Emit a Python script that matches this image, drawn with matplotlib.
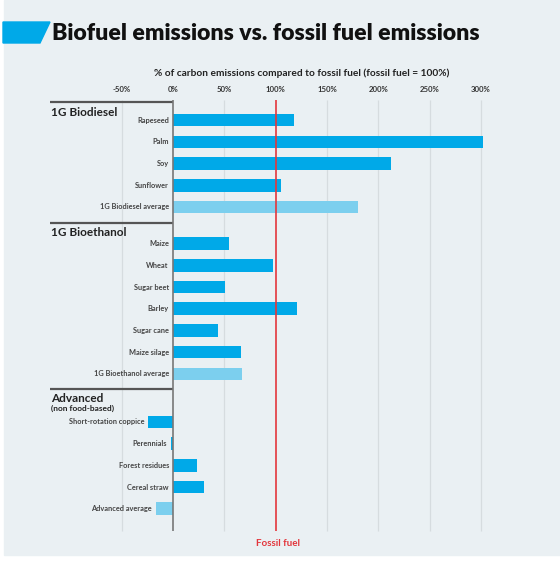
import matplotlib
matplotlib.use("Agg")
import matplotlib.pyplot as plt
from matplotlib.patches import Polygon, Rectangle

# Data (% of fossil fuel emissions)
biodiesel_labels = ["Rapeseed", "Palm", "Soy", "Sunflower", "1G Biodiesel average"]
biodiesel_values = [118, 302, 212, 105, 180]
bioethanol_labels = ["Maize", "Wheat", "Sugar beet", "Barley", "Sugar cane",
                     "Maize silage", "1G Bioethanol average"]
bioethanol_values = [55, 97, 51, 121, 44, 66, 67]
advanced_labels = ["Short-rotation coppice", "Perennials", "Forest residues",
                   "Cereal straw", "Advanced average"]
advanced_values = [-24, -2, 23, 30, -17]
tick_values = [-50, 0, 50, 100, 150, 200, 250, 300]
tick_labels = ["-50%", "0%", "50%", "100%", "150%", "200%", "250%", "300%"]

groups = [
    ("1G Biodiesel", None, biodiesel_labels, biodiesel_values, 0.85),
    ("1G Bioethanol", None, bioethanol_labels, bioethanol_values, 0.97),
    ("Advanced", "(non food-based)", advanced_labels, advanced_values, 1.5),
]

BLUE = "#00a9e8"
LIGHT = "#7ccfee"
RED = "#e3363c"
BG = "#eaf0f3"
FONT = "Lato"

fig = plt.figure(figsize=(5.6, 5.62), dpi=100)
fig.patch.set_facecolor("white")
fig.patches.append(Rectangle((4 / 560, 1 - 555 / 562), 556 / 560, 555 / 562,
                             transform=fig.transFigure, color=BG, zorder=-5))

# axes covering whole figure, mapped so 0% -> 173px, 300% -> 481px
ax = fig.add_axes([0, 0, 1, 1])
ax.set_zorder(2)
ax.patch.set_alpha(0)
px = 1.027
ax.set_xlim(-173 / px, (560 - 173) / px)
ax.set_ylim((562 - 101.7) / 21.7, -101.7 / 21.7)
ax.axis("off")

top, bottom = -0.1, 19.8

# grid lines
for v in tick_values:
    if v in (0, 100):
        continue
    ax.vlines(v, top, bottom, color="#d6dcdf", lw=0.9, zorder=1)

# bars
pos = 0.0
for name, sub, labels, values, off in groups:
    ax.hlines(pos, -120, 0, color="#555555", lw=1.6, zorder=3)
    if sub is None:
        ax.text(-119, pos + 0.48, name, fontsize=8.5, fontweight="bold",
                family=FONT, color="#222222", va="center", ha="left")
    else:
        ax.text(-119, pos + 0.4, name, fontsize=8.5, fontweight="bold",
                family=FONT, color="#222222", va="center", ha="left")
        ax.text(-119, pos + 0.85, sub, fontsize=6, fontweight="bold",
                family=FONT, color="#222222", va="center", ha="left")
    y = pos + off
    for i, (lab, val) in enumerate(zip(labels, values)):
        col = LIGHT if i == len(labels) - 1 else BLUE
        ax.barh(y, val, height=0.58, color=col, zorder=2)
        ax.text(min(val, 0) - 4, y, lab, fontsize=5.3, family=FONT,
                fontweight="bold", color="#444444", ha="right", va="center")
        y += 1
    pos = y - 1 + 0.72

# zero line and fossil fuel line
ax.vlines(0, top, bottom, color="#777777", lw=1.2, zorder=4)
ax.vlines(100, top, bottom, color=RED, lw=1.2, zorder=4)
ax.text(102, 20.35, "Fossil fuel", color=RED, fontsize=7, family=FONT,
        fontweight="bold", ha="center", va="center")

# tick labels and axis title
for v, t in zip(tick_values, tick_labels):
    ax.text(v, -0.58, t, fontsize=5.6, family=FONT, fontweight="bold",
            color="#333333", ha="center", va="center")
ax.text(125, -1.32, "% of carbon emissions compared to fossil fuel (fossil fuel = 100%)",
        fontsize=7.3, family=FONT, fontweight="bold", color="#222222",
        ha="center", va="center")

# title with blue tab
fig.patches.append(Polygon([(3 / 560, 1 - 22 / 562), (50 / 560, 1 - 22 / 562),
                            (40 / 560, 1 - 43 / 562), (3 / 560, 1 - 43 / 562)],
                           closed=True, transform=fig.transFigure, color=BLUE))
fig.text(52 / 560, 1 - 33 / 562, "Biofuel emissions vs. fossil fuel emissions",
         fontsize=16.6, fontweight="heavy", family=FONT, color="#111111",
         ha="left", va="center")

fig.savefig("out.png", dpi=100, facecolor=fig.get_facecolor())
